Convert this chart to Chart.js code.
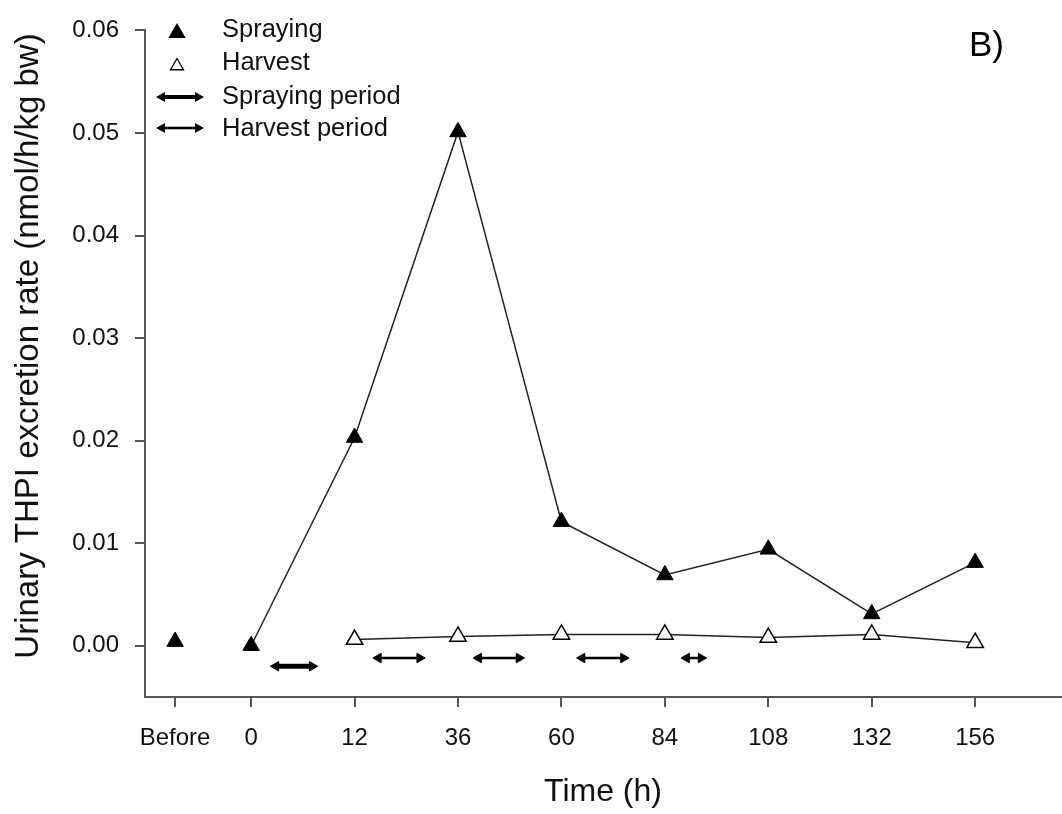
<!DOCTYPE html>
<html lang="en">
<head>
  <meta charset="UTF-8" />
  <title>Urinary THPI excretion rate</title>
  <script src="https://cdn.jsdelivr.net/npm/chart.js"></script>
  <style>
    * { margin: 0; padding: 0; box-sizing: border-box; }
    body { background: #fff; overflow: hidden; }
    .wrap { position: relative; width: 1062px; height: 814px; }
    canvas { display: block; }
  </style>
</head>
<body>
  <div class="wrap">
    <canvas id="thpiChart" width="1062" height="814"></canvas>
  </div>

  <script>
    // x positions are axis slots: 0 h sits at 0, each later sample one slot further
    const xLabels = ["Before", "0", "12", "36", "60", "84", "108", "132", "156"];
    const xPos = [-0.735, 0, 1, 2, 3, 4, 5, 6, 7];

    const sprayingVals = [0.0004, 0.0000, 0.0203, 0.0501, 0.0121, 0.0069, 0.0094, 0.0031, 0.0081];
    const harvestPos = [1, 2, 3, 4, 5, 6, 7];
    const harvestVals = [0.0006, 0.0009, 0.0011, 0.0011, 0.0008, 0.0011, 0.0003];

    // exposure periods drawn as double arrows under the curves
    const sprayPeriod = [0.24, 0.59];
    const sprayLevel = -0.0020;
    const harvestPeriods = [[1.23, 1.63], [2.2, 2.59], [3.2, 3.6], [4.21, 4.35]];
    const harvestLevel = -0.0012;

    const yTicks = [0, 0.01, 0.02, 0.03, 0.04, 0.05, 0.06];

    const FONT = "'Liberation Sans', Arial, sans-serif";
    const axisGrey = "#555";

    function arrowSet(range, level, width) {
      return {
        data: [{ x: range[0], y: level }, { x: range[1], y: level }],
        showLine: true,
        borderColor: "#000",
        borderWidth: width,
        backgroundColor: "#000",
        pointStyle: "triangle",
        pointRadius: 5.5,
        pointBorderWidth: 1,
        pointRotation: [-90, 90]
      };
    }

    const datasets = [
      {
        label: "Spraying",
        data: xPos.map((x, i) => ({ x: x, y: sprayingVals[i] })),
        showLine: true,
        segment: {
          borderColor: ctx => ctx.p0DataIndex === 0 ? "transparent" : "#222"
        },
        borderColor: "#222",
        borderWidth: 1.5,
        pointStyle: "triangle",
        pointRadius: 9.5,
        pointBackgroundColor: "#000",
        pointBorderColor: "#000",
        pointBorderWidth: 1
      },
      {
        label: "Harvest",
        data: harvestPos.map((x, i) => ({ x: x, y: harvestVals[i] })),
        showLine: true,
        borderColor: "#222",
        borderWidth: 1.5,
        pointStyle: "triangle",
        pointRadius: 9.5,
        pointBackgroundColor: "#fff",
        pointBorderColor: "#000",
        pointBorderWidth: 1.5
      },
      arrowSet(sprayPeriod, sprayLevel, 5)
    ];
    harvestPeriods.forEach(p => datasets.push(arrowSet(p, harvestLevel, 2.5)));

    // hand drawn legend, y title and panel letter
    const legendPlugin = {
      id: "legendPlugin",
      afterDraw(chart) {
        const ctx = chart.ctx;
        ctx.save();
        ctx.fillStyle = "#111";
        ctx.font = "25.5px " + FONT;
        ctx.textBaseline = "middle";
        ctx.textAlign = "left";
        const rows = [
          ["Spraying", 30], ["Harvest", 63], ["Spraying period", 97], ["Harvest period", 129]
        ];
        rows.forEach(r => ctx.fillText(r[0], 222, r[1]));

        function tri(x, y, r, fill) {
          ctx.beginPath();
          ctx.moveTo(x, y - r);
          ctx.lineTo(x + r * 0.866, y + r / 2);
          ctx.lineTo(x - r * 0.866, y + r / 2);
          ctx.closePath();
          if (fill) { ctx.fillStyle = "#000"; ctx.fill(); }
          else { ctx.fillStyle = "#fff"; ctx.fill(); ctx.strokeStyle = "#000"; ctx.lineWidth = 1.3; ctx.stroke(); }
        }
        tri(177, 33, 10, true);
        tri(177, 66, 7.5, false);

        function arrow(y, w) {
          ctx.strokeStyle = "#000";
          ctx.lineWidth = w;
          ctx.beginPath();
          ctx.moveTo(162, y);
          ctx.lineTo(198, y);
          ctx.stroke();
          ctx.fillStyle = "#000";
          ctx.beginPath();
          ctx.moveTo(156, y); ctx.lineTo(165, y - 5); ctx.lineTo(165, y + 5); ctx.closePath(); ctx.fill();
          ctx.beginPath();
          ctx.moveTo(204, y); ctx.lineTo(195, y - 5); ctx.lineTo(195, y + 5); ctx.closePath(); ctx.fill();
        }
        arrow(97, 4);
        arrow(128, 2.5);

        ctx.fillStyle = "#111";
        ctx.font = "33px " + FONT;
        ctx.textAlign = "center";
        ctx.textBaseline = "middle";
        ctx.translate(29, 346);
        ctx.rotate(-Math.PI / 2);
        ctx.fillText("Urinary THPI excretion rate (nmol/h/kg bw)", 0, 0);
        ctx.setTransform(1, 0, 0, 1, 0, 0);

        ctx.fillStyle = "#000";
        ctx.font = "35px " + FONT;
        ctx.textAlign = "left";
        ctx.textBaseline = "alphabetic";
        ctx.fillText("B)", 969, 56);
        ctx.restore();
      }
    };

    new Chart(document.getElementById("thpiChart"), {
      type: "scatter",
      data: { datasets: datasets },
      options: {
        responsive: false,
        animation: false,
        layout: { autoPadding: false, padding: { top: 27, right: 1, left: 0, bottom: 0 } },
        plugins: {
          legend: { display: false },
          tooltip: { enabled: false }
        },
        scales: {
          x: {
            type: "linear",
            min: -1.026,
            max: 7.83,
            afterBuildTicks: s => { s.ticks = xPos.map(v => ({ value: v })); },
            afterFit: s => { s.height = 117; s.paddingLeft = 0; s.paddingRight = 0; },
            ticks: {
              autoSkip: false,
              maxRotation: 0,
              padding: 17,
              color: "#111",
              font: { family: FONT, size: 24 },
              callback: (v, i) => xLabels[i]
            },
            grid: {
              drawOnChartArea: false,
              drawTicks: true,
              tickLength: 10,
              tickColor: axisGrey,
              lineWidth: 2
            },
            border: { display: true, color: axisGrey, width: 2 },
            title: {
              display: true,
              text: "Time (h)",
              color: "#111",
              font: { family: FONT, size: 32 },
              padding: { top: 0, bottom: 3 }
            }
          },
          y: {
            min: -0.005,
            max: 0.06,
            afterBuildTicks: s => { s.ticks = yTicks.map(v => ({ value: v })); },
            afterFit: s => { s.width = 145; },
            ticks: {
              padding: 16,
              color: "#111",
              font: { family: FONT, size: 24 },
              callback: v => v.toFixed(2)
            },
            grid: {
              drawOnChartArea: false,
              drawTicks: true,
              tickLength: 10,
              tickColor: axisGrey,
              lineWidth: 2
            },
            border: { display: true, color: axisGrey, width: 2 }
          }
        }
      },
      plugins: [legendPlugin]
    });
  </script>
</body>
</html>
